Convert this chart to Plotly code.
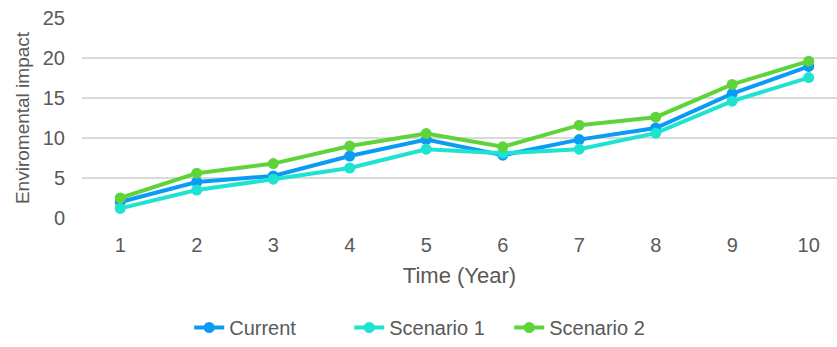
import plotly.graph_objects as go

years = [1, 2, 3, 4, 5, 6, 7, 8, 9, 10]
current = [2.0, 4.5, 5.25, 7.75, 9.8, 7.85, 9.8, 11.25, 15.55, 18.95]
scenario_1 = [1.2, 3.5, 4.85, 6.25, 8.6, 8.1, 8.6, 10.6, 14.6, 17.55]
scenario_2 = [2.5, 5.6, 6.8, 9.0, 10.55, 8.9, 11.6, 12.6, 16.7, 19.6]
y_ticks = [0, 5, 10, 15, 20, 25]

series = [
    ("Current", current, "#0a9cf5"),
    ("Scenario 1", scenario_1, "#1ee3d0"),
    ("Scenario 2", scenario_2, "#5ed43a"),
]

fig = go.Figure()
for name, vals, color in series:
    fig.add_trace(go.Scatter(
        x=years, y=vals, name=name, mode="lines+markers",
        line=dict(color=color, width=4),
        marker=dict(color=color, size=11),
    ))

font = "Liberation Sans, Arial, sans-serif"
grey = "#595959"

fig.update_layout(
    width=837, height=347,
    margin=dict(l=82, r=0, t=18, b=128),
    paper_bgcolor="white", plot_bgcolor="white",
    font=dict(family=font, color=grey, size=20),
    showlegend=True,
    legend=dict(
        orientation="h", x=0.142, xanchor="left", xref="paper",
        y=-0.55, yanchor="middle",
        font=dict(size=20, color=grey),
        itemwidth=30, tracegroupgap=0,
        entrywidth=115, entrywidthmode="pixels",
    ),
    xaxis=dict(
        range=[0.5, 10.37], tickvals=years, automargin=False,
        showgrid=False, zeroline=False, showline=False,
        ticks="", ticklabelstandoff=13,
        tickfont=dict(size=20, color=grey),
        title=dict(text="Time (Year)", font=dict(size=22, color=grey), standoff=12),
    ),
    yaxis=dict(
        range=[0, 25], tickvals=y_ticks, automargin=False,
        showgrid=True, gridcolor="#d9d9d9", gridwidth=1.5,
        zeroline=False, showline=False, ticks="",
        ticklabelstandoff=16,
        tickfont=dict(size=20, color=grey),
        title=dict(text="Enviromental impact", font=dict(size=19, color=grey), standoff=8),
    ),
)

fig.write_html("out.html")
